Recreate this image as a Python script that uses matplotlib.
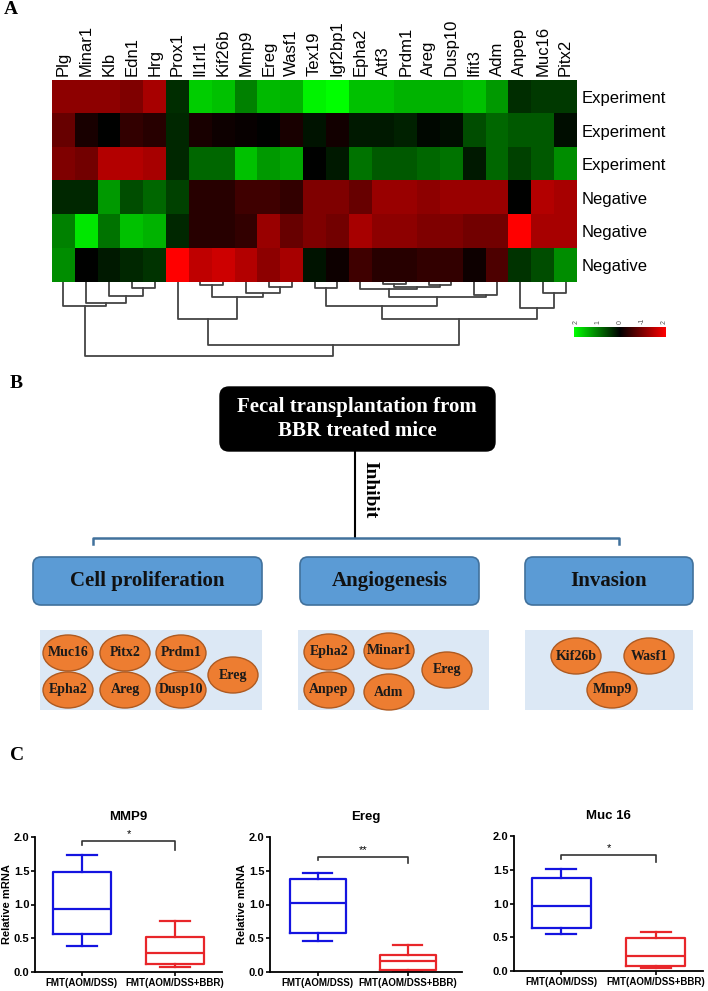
import numpy as np
import matplotlib
matplotlib.use("Agg")
import matplotlib.pyplot as plt
from matplotlib.colors import LinearSegmentedColormap
from matplotlib.patches import FancyBboxPatch, Ellipse, Rectangle

plt.rcParams['font.family'] = ['Liberation Sans', 'DejaVu Sans']

W, H = 708, 991

# ---------------- data ----------------
genes = ['Plg', 'Minar1', 'Klb', 'Edn1', 'Hrg', 'Prox1', 'Il1rl1', 'Kif26b', 'Mmp9',
         'Ereg', 'Wasf1', 'Tex19', 'Igf2bp1', 'Epha2', 'Atf3', 'Prdm1', 'Areg',
         'Dusp10', 'Ifit3', 'Adm', 'Anpep', 'Muc16', 'Pitx2']
samples = ['Experiment', 'Experiment', 'Experiment', 'Negative', 'Negative', 'Negative']

# z-scores (green = positive, red = negative)
row_exp1 = [-1.1, -1.1, -1.1, -1.0, -1.3, 0.35, 1.6, 1.5, 1.0, 1.45, 1.4, 1.9, 2.0,
            1.5, 1.5, 1.4, 1.4, 1.4, 1.5, 1.2, 0.35, 0.45, 0.45]
row_exp2 = [-0.8, -0.2, 0.0, -0.4, -0.3, 0.3, -0.2, -0.1, -0.05, 0.0, -0.2, 0.15, -0.15,
            0.2, 0.2, 0.25, 0.05, 0.1, 0.6, 0.8, 0.7, 0.7, 0.1]
row_exp3 = [-1.0, -0.9, -1.4, -1.4, -1.3, 0.3, 0.8, 0.8, 1.5, 1.2, 1.3, 0.0, 0.2,
            0.9, 0.7, 0.7, 0.8, 0.9, 0.2, 0.8, 0.5, 0.7, 1.1]
row_neg1 = [0.3, 0.3, 1.2, 0.6, 0.8, 0.5, -0.3, -0.3, -0.5, -0.5, -0.4, -1.0, -1.0,
            -0.8, -1.2, -1.2, -1.1, -1.2, -1.2, -1.2, 0.0, -1.4, -1.3]
row_neg2 = [1.0, 1.8, 0.9, 1.5, 1.4, 0.3, -0.3, -0.3, -0.4, -1.2, -0.8, -1.0, -0.9,
            -1.3, -1.1, -1.1, -1.0, -1.0, -0.9, -0.9, -2.0, -1.3, -1.3]
row_neg3 = [1.1, 0.0, 0.2, 0.3, 0.4, -2.0, -1.5, -1.6, -1.4, -1.1, -1.3, 0.15, -0.1,
            -0.5, -0.3, -0.3, -0.4, -0.4, -0.1, -0.6, 0.4, 0.6, 1.1]
expr = np.array([row_exp1, row_exp2, row_exp3, row_neg1, row_neg2, row_neg3])

# column dendrogram: (left node, right node, merge height); leaves are 0..22
merges = [(3, 4, 6), (2, 23, 14), (1, 24, 21), (0, 25, 24),
          (6, 7, 3), (9, 10, 5), (8, 28, 11), (27, 29, 15), (5, 30, 37),
          (11, 12, 6), (14, 15, 1.5), (16, 17, 3), (33, 34, 5), (13, 35, 7),
          (18, 19, 13), (36, 37, 15), (32, 38, 24), (21, 22, 11), (20, 40, 26),
          (39, 41, 37), (31, 42, 63), (26, 43, 74)]

cb_labels = ['2', '1', '0', '-1', '2']

top_text = "Fecal transplantation from\nBBR treated mice"
categories = ['Cell proliferation', 'Angiogenesis', 'Invasion']
cat_genes = [['Muc16', 'Pitx2', 'Prdm1', 'Ereg', 'Epha2', 'Areg', 'Dusp10'],
             ['Epha2', 'Minar1', 'Ereg', 'Anpep', 'Adm'],
             ['Kif26b', 'Wasf1', 'Mmp9']]

qpcr_genes = ['MMP9', 'Ereg', 'Muc 16']
groups = ['FMT(AOM/DSS)', 'FMT(AOM/DSS+BBR)']
# (whisker low, q1, median, q3, whisker high) per group
mmp9_stats = [(0.39, 0.56, 0.93, 1.48, 1.74), (0.07, 0.12, 0.28, 0.52, 0.75)]
ereg_stats = [(0.46, 0.58, 1.02, 1.385, 1.47), (0.0, 0.025, 0.157, 0.255, 0.40)]
muc16_stats = [(0.545, 0.64, 0.97, 1.385, 1.51), (0.04, 0.08, 0.22, 0.49, 0.585)]
sig_marks = ['*', '**', '*']
# bracket: (top, left end, right end)
sig_levels = [(1.94, 1.88, 1.81), (1.705, 1.66, 1.61), (1.715, 1.66, 1.61)]

# ---------------- figure ----------------
fig = plt.figure(figsize=(W / 100, H / 100), dpi=100)


def px_axes(x0, y0, x1, y1):
    return fig.add_axes([x0 / W, 1 - y1 / H, (x1 - x0) / W, (y1 - y0) / H])


# background axes in pixel coordinates for labels and panel B
axb = fig.add_axes([0, 0, 1, 1])
axb.set_xlim(0, W)
axb.set_ylim(H, 0)
axb.axis('off')
axb.patch.set_alpha(0)

serif = 'Liberation Serif'
for lab, (x, y) in zip('ABC', [(4, 10), (10, 383), (10, 755)]):
    axb.text(x, y, lab, fontsize=14, fontweight='bold', family=serif, va='center')

# --- A: heatmap ---
cmap = LinearSegmentedColormap.from_list('rg', ['#ff0000', '#000000', '#00ff00'])
ax = px_axes(52, 80, 577, 282)
ax.imshow(expr, cmap=cmap, vmin=-2, vmax=2, aspect='auto', interpolation='nearest')
ax.set_xticks(range(len(genes)))
ax.set_xticklabels(genes, rotation=90, fontsize=12)
ax.xaxis.tick_top()
ax.set_yticks(range(len(samples)))
ax.set_yticklabels(samples, fontsize=12)
ax.yaxis.tick_right()
ax.tick_params(length=0, pad=3)
for s in ax.spines.values():
    s.set_visible(False)

# dendrogram
axd = px_axes(52, 282, 577, 368)
axd.set_xlim(-0.5, len(genes) - 0.5)
axd.set_ylim(86, 0)
axd.axis('off')
pos = {i: float(i) for i in range(len(genes))}
hgt = {i: 0.0 for i in range(len(genes))}
for k, (a, b, h) in enumerate(merges):
    axd.plot([pos[a], pos[a], pos[b], pos[b]], [hgt[a], h, h, hgt[b]],
             color='#444444', lw=1.3)
    node = len(genes) + k
    pos[node] = (pos[a] + pos[b]) / 2
    hgt[node] = h

# colour key
axc = px_axes(574, 327, 666, 337)
axc.imshow(np.linspace(2, -2, 256)[None, :], extent=(0, 1, 0, 1), aspect='auto',
           cmap=cmap, vmin=-2, vmax=2)
axc.set_xticks(np.linspace(0.02, 0.98, 5))
axc.set_xticklabels(cb_labels, rotation=90, fontsize=5, color='#555555')
axc.xaxis.tick_top()
axc.set_yticks([])
axc.tick_params(length=0, pad=2)
for s in axc.spines.values():
    s.set_visible(False)

# --- B: diagram ---
axb.add_patch(FancyBboxPatch((220, 387), 275, 64, boxstyle='round,pad=0,rounding_size=9',
                             fc='black', ec='black'))
axb.text(357, 419, top_text, ha='center', va='center', color='white', fontsize=15,
         fontweight='bold', family=serif, linespacing=1.3)
axb.plot([355, 355], [451, 538], color='black', lw=1.5)
axb.text(370, 490, 'Inhibit', rotation=-90, ha='center', va='center', fontsize=14,
         fontweight='bold', family=serif)
axb.plot([93, 93, 619, 619], [544, 538, 538, 544], color='#41719c', lw=1.8)

box_x = [(33, 262), (300, 479), (525, 693)]
cont_x = [(40, 262), (298, 489), (525, 693)]
for (x0, x1), cat in zip(box_x, categories):
    axb.add_patch(FancyBboxPatch((x0, 557), x1 - x0, 48,
                                 boxstyle='round,pad=0,rounding_size=8',
                                 fc='#5b9bd5', ec='#41719c', lw=1.2))
    axb.text((x0 + x1) / 2, 581, cat, ha='center', va='center', fontsize=15,
             fontweight='bold', family=serif, color='#111111')
for x0, x1 in cont_x:
    axb.add_patch(Rectangle((x0, 630), x1 - x0, 80, fc='#dce8f5', ec='none'))

ell_xy = [[(68, 653), (125, 653), (181, 653), (233, 675), (68, 690), (125, 690), (181, 690)],
          [(329, 652), (389, 651), (447, 670), (329, 690), (389, 692)],
          [(576, 656), (649, 656), (612, 690)]]
for names, xy in zip(cat_genes, ell_xy):
    for g, (cx, cy) in zip(names, xy):
        axb.add_patch(Ellipse((cx, cy), 50, 36, fc='#ed7d31', ec='#ae5a21', lw=1))
        axb.text(cx, cy, g, ha='center', va='center', fontsize=10, fontweight='bold',
                 family=serif, color='#1a1a1a')

# --- C: boxplots ---
ax_boxes = [(35, 837, 222, 972), (270, 837, 462, 972), (514, 836, 703, 971)]
xlims = [(0.5, 2.5), (0.47, 2.6), (0.5, 2.5)]
all_stats = [mmp9_stats, ereg_stats, muc16_stats]
colors = ['#1414e0', '#e8262a']
for i, (name, st, sig, lev) in enumerate(zip(qpcr_genes, all_stats, sig_marks, sig_levels)):
    ax = px_axes(*ax_boxes[i])
    stats = [dict(whislo=s[0], q1=s[1], med=s[2], q3=s[3], whishi=s[4], fliers=[])
             for s in st]
    art = ax.bxp(stats, positions=[1, 2], widths=0.62, showfliers=False, capwidths=0.32)
    for j, c in enumerate(colors):
        art['boxes'][j].set(color=c, lw=1.6)
        art['medians'][j].set(color=c, lw=1.6)
        for a in art['whiskers'][2 * j:2 * j + 2] + art['caps'][2 * j:2 * j + 2]:
            a.set(color=c, lw=1.6)
    ax.set_xlim(*xlims[i])
    ax.set_ylim(0, 2.0)
    ax.set_yticks([0, 0.5, 1.0, 1.5, 2.0])
    ax.set_yticklabels(['0.0', '0.5', '1.0', '1.5', '2.0'], fontsize=8, fontweight='bold')
    ax.set_xticks([1, 2])
    ax.set_xticklabels(groups, fontsize=7, fontweight='bold')
    ax.tick_params(direction='out', length=3, width=1.2, pad=1)
    for s in ['top', 'right']:
        ax.spines[s].set_visible(False)
    for s in ['left', 'bottom']:
        ax.spines[s].set_linewidth(1.3)
    ax.set_title(name, fontsize=9.5, fontweight='bold', pad=12)
    if i < 2:
        ax.set_ylabel('Relative mRNA', fontsize=8, fontweight='bold', labelpad=1)
    top, le, re = lev
    ax.plot([1, 1, 2, 2], [le, top, top, re], color='#333333', lw=1.2, clip_on=False)
    ax.text(1.5, top + 0.03, sig, ha='center', va='bottom', fontsize=8, clip_on=False)

fig.savefig('out.png', dpi=100)
